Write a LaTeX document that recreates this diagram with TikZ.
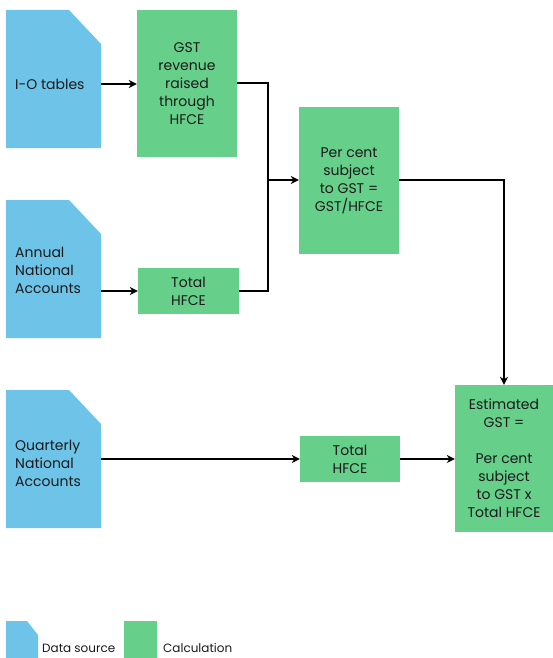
\documentclass[tikz,border=0pt]{standalone}
\usepackage{fontspec}
\setmainfont{Poppins}
\usetikzlibrary{arrows.meta}
\definecolor{docblue}{HTML}{6EC4E8}
\definecolor{calcgreen}{HTML}{66CF8A}
\definecolor{ink}{HTML}{1A1A1A}
\tikzset{
  calc/.style={fill=calcgreen, draw=none, inner sep=0pt, align=center, text=ink,
    font=\fontsize{14}{18}\selectfont},
  doctext/.style={anchor=west, align=left, text=ink, inner sep=0pt, font=\fontsize{14}{18}\selectfont},
  legtext/.style={anchor=base west, text=ink, inner sep=0pt, font=\fontsize{12}{14}\selectfont},
  conn/.style={draw=black, line width=1.4pt, -{Stealth[length=8pt,width=8pt]}},
  link/.style={draw=black, line width=1.4pt},
}
\begin{document}
\begin{tikzpicture}[x=1pt,y=-1pt]
\useasboundingbox (0,0) rectangle (553,658);
% data source shapes
\foreach \yy in {10,200,390}{
  \fill[docblue] (6,\yy) -- (69,\yy) -- (101,\yy+34) -- (101,\yy+138) -- (6,\yy+138) -- cycle;
}
\node (d1) [minimum width=95pt, minimum height=138pt, inner sep=0pt] at (53.5,79) {};
\node (d2) [minimum width=95pt, minimum height=138pt, inner sep=0pt] at (53.5,269) {};
\node (d3) [minimum width=95pt, minimum height=138pt, inner sep=0pt] at (53.5,459) {};
\node (t1) [doctext] at (15,84) {I-O tables};
\node (t2) [doctext] at (15,270) {Annual\\National\\Accounts};
\node (t3) [doctext] at (15,463) {Quarterly\\National\\Accounts};
% calculation boxes
\node (g1) [calc, minimum width=100pt, minimum height=147pt] at (187,83.5) {GST\\revenue\\raised\\through\\HFCE};
\node (g2) [calc, minimum width=101pt, minimum height=46pt] at (188.5,291) {Total\\HFCE};
\node (g3) [calc, minimum width=100pt, minimum height=147pt] at (349,180.5) {Per cent\\subject\\to GST =\\GST/HFCE};
\node (g4) [calc, minimum width=100pt, minimum height=46pt] at (350,459) {Total\\HFCE};
\node (g5) [calc, minimum width=98pt, minimum height=147pt] at (504,458.5) {Estimated\\GST =\\\\Per cent\\subject\\to GST x\\Total HFCE};
% connectors
\coordinate (j) at (268,180);
\draw[conn] (d1.east |- 0,84) -- (g1.west |- 0,84);
\draw[conn] (d2.east |- 0,291) -- (g2.west);
\draw[conn] (d3.east |- 0,459) -- (g4.west);
\draw[conn] (g4.east) -- (g5.west |- g4.east);
\draw[link] (g1.east |- 0,83) -| (j);
\draw[link] (g2.east) -| (j);
\draw[conn] (j) -- (g3.west |- j);
\draw[conn] (g3.east |- 0,180) -| (g5.north);
% legend
\fill[docblue] (6,621) -- (27,621) -- (38,635) -- (38,658) -- (6,658) -- cycle;
\node (ld) [inner sep=0pt, minimum width=32pt, minimum height=37pt] at (22,639.5) {};
\node (lg) [fill=calcgreen, inner sep=0pt, minimum width=33pt, minimum height=37pt] at (140.5,639.5) {};
\node (ldt) [legtext] at (42,652) {Data source};
\node (lgt) [legtext] at (163,652) {Calculation};
\end{tikzpicture}
\end{document}
